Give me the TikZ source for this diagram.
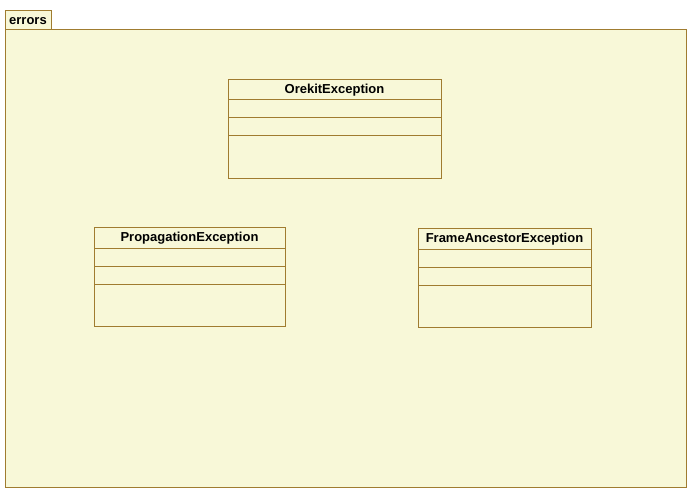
\documentclass[tikz,border=0pt]{standalone}
\usepackage{fontspec}
\setmainfont{Liberation Sans}
\definecolor{pkgfill}{HTML}{F8F8D8}
\definecolor{pkgline}{HTML}{A07C30}
\begin{document}
\begin{tikzpicture}[x=1pt,y=-1pt,
  boxline/.style={draw=pkgline,line width=1pt},
  classbox/.style={boxline,fill=pkgfill,inner sep=0pt,anchor=north west},
  ctitle/.style={font=\fontsize{13}{15}\selectfont\bfseries,inner sep=0pt,anchor=base}]
\useasboundingbox (0,0) rectangle (692,494);
\fill[white] (0,0) rectangle (692,494);
% package
\node[classbox,minimum width=46pt,minimum height=19pt] (tab) at (5,10) {};
\node[ctitle] (tabtext) at (28,24.3) {errors};
\node[classbox,minimum width=681pt,minimum height=458pt] (pkg) at (5,29) {};
% OrekitException
\node[classbox,minimum width=213pt,minimum height=99pt] (ore) at (228,79) {};
\draw[boxline] (228,100) -- (441,100);
\draw[boxline] (228,118) -- (441,118);
\draw[boxline] (228,136) -- (441,136);
\node[ctitle] (oret) at (334.5,93.3) {OrekitException};
% PropagationException
\node[classbox,minimum width=191pt,minimum height=99pt] (prop) at (94,227) {};
\draw[boxline] (94,248) -- (285,248);
\draw[boxline] (94,266) -- (285,266);
\draw[boxline] (94,284) -- (285,284);
\node[ctitle] (propt) at (189.5,241.4) {PropagationException};
% FrameAncestorException
\node[classbox,minimum width=173pt,minimum height=99pt] (frame) at (418,228) {};
\draw[boxline] (418,249) -- (591,249);
\draw[boxline] (418,267) -- (591,267);
\draw[boxline] (418,285) -- (591,285);
\node[ctitle] (framet) at (504.5,242.4) {FrameAncestorException};
\end{tikzpicture}
\end{document}
